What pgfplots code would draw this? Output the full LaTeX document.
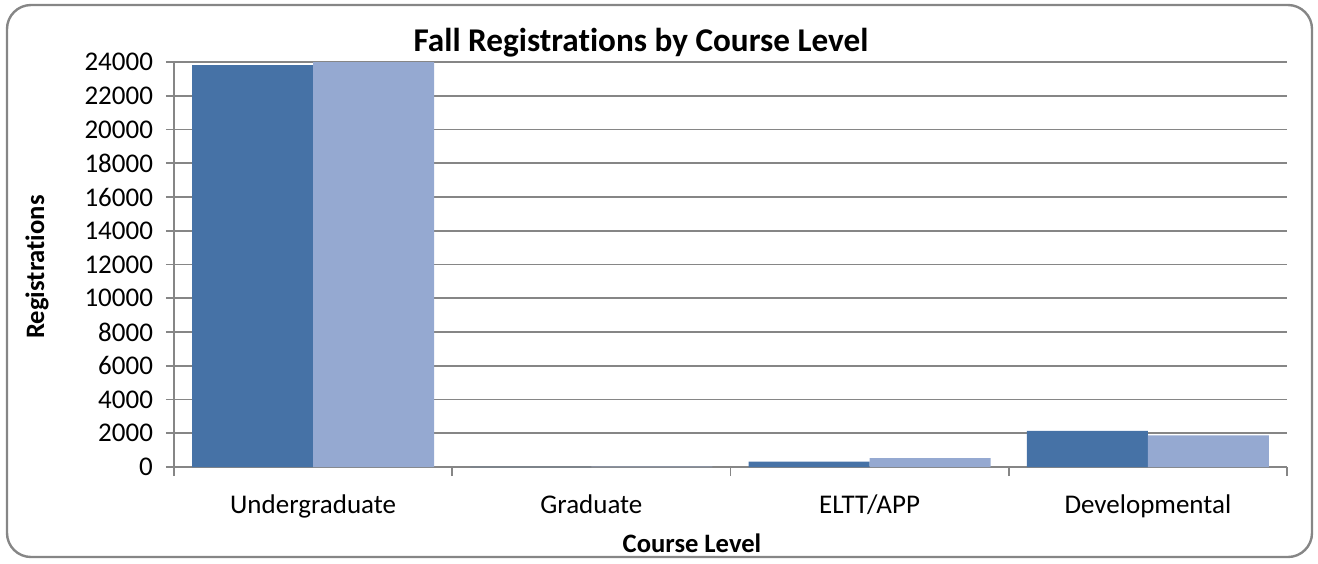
\documentclass[border=0pt]{standalone}
\usepackage{pgfplots}
\pgfplotsset{compat=1.18}
\usepackage{fontspec}
\setmainfont{Carlito}[Ligatures=NoCommon]
\definecolor{barA}{RGB}{70,114,166}
\definecolor{barB}{RGB}{149,169,209}
\definecolor{axgray}{RGB}{134,134,134}
\begin{document}
\begin{tikzpicture}[x=0.5pt,y=-0.5pt]
% page frame and chart border
\path (0,0) rectangle (1318,563);
\draw[axgray, line width=1.2pt, rounded corners=12pt] (7,5) rectangle (1312,557);
\coordinate (O) at (174,467);
\begin{axis}[
    at={(O)}, anchor=south west,
    scale only axis,
    width=556.5pt, height=202.5pt,
    ybar, bar width=60.5pt,
    xmin=-0.5, xmax=3.5,
    ymin=0, ymax=24000,
    xtick={0,1,2,3},
    xticklabels={Undergraduate,Graduate,ELTT/APP,Developmental},
    minor xtick={-0.5,0.5,1.5,2.5,3.5},
    ytick={0,2000,...,24000},
    ymajorgrids,
    grid style={axgray, line width=0.9pt},
    axis x line*=bottom, axis y line*=left,
    axis line style={axgray, line width=0.9pt, -},
    major tick style={axgray, line width=0.9pt},
    minor tick style={axgray, line width=0.9pt},
    xtick style={draw=none},
    minor x tick style={draw=axgray},
    tick align=outside,
    minor tick length=4.5pt,
    major tick length=4pt,
    /pgf/number format/fixed,
    /pgf/number format/1000 sep={},
    /pgf/number format/assume math mode=true,
    yticklabel style={font=\fontsize{13.5}{15}\selectfont, xshift=-3pt},
    xticklabel style={font=\fontsize{13.5}{15}\selectfont, yshift=-6.5pt},
    scaled y ticks=false,
    clip=false,
]
\addplot[fill=barA, draw=none, bar shift=-30.25pt] coordinates {(0,23820) (1,15) (2,320) (3,2135)};
\addplot[fill=barB, draw=none, bar shift=30.25pt] coordinates {(0,24000) (1,20) (2,530) (3,1875)};
\end{axis}
\node[font=\bfseries\fontsize{16.6}{19}\selectfont] at (641,43) {Fall Registrations by Course Level};
\node[font=\bfseries\fontsize{13.3}{15}\selectfont, rotate=90] at (37,267) {Registrations};
\node[font=\bfseries\fontsize{13.3}{15}\selectfont] at (692,543) {Course Level};
\end{tikzpicture}
\end{document}
